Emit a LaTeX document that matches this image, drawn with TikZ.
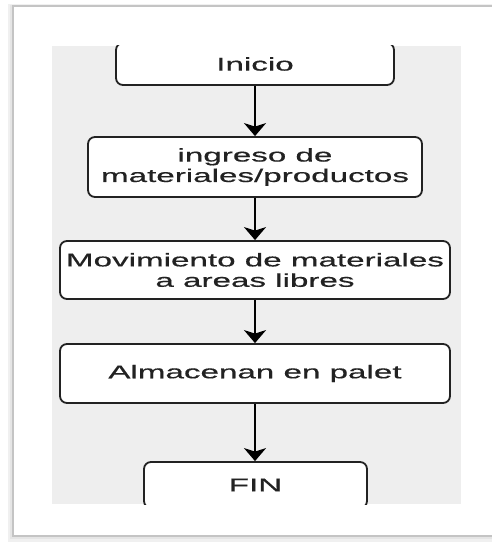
\documentclass[tikz,border=0pt]{standalone}
\usepackage{fontspec}
\setmainfont{Liberation Sans}
\newfontfamily\boxfont{Liberation Sans}[FakeStretch=1.8, FakeBold=0.5]
\usetikzlibrary{arrows.meta}
\definecolor{panel}{HTML}{EEEEEE}
\definecolor{framegray}{HTML}{C4C4C4}
\definecolor{ink}{HTML}{222222}
\tikzset{
  stepbox/.style={draw=ink, line width=1.8bp, rounded corners=7bp, fill=white,
    inner sep=0pt, align=center, text=ink,
    font=\boxfont\fontsize{18.5}{20.5}\selectfont},
  flow/.style={draw=black, line width=2.4bp,
    -{Stealth[length=13bp, width=22bp, inset=3.5bp]}}
}
\begin{document}
\begin{tikzpicture}[x=1bp, y=-1bp]
\useasboundingbox (0,0) rectangle (492,542);
% shadow of the frame
\fill[black!6] (8,4) rectangle (496,542);
\fill[black!10] (10,5) rectangle (496,539);
% outer frame
\draw[framegray, line width=1.6bp, fill=white] (13,6) rectangle (500,536);
% grey panel
\fill[panel] (52,46) rectangle (461,504);
\begin{scope}
\clip (52,46) rectangle (461,504);
\node[stepbox, minimum width=278bp, minimum height=42bp] (inicio) at (255,64) {Inicio};
\node[stepbox, minimum width=334bp, minimum height=60bp] (ingreso) at (255,167) {ingreso de\\materiales/productos};
\node[stepbox, minimum width=390bp, minimum height=58bp] (movim) at (255,270) {Movimiento de materiales\\a areas libres};
\node[stepbox, minimum width=390bp, minimum height=59bp] (almac) at (255,373.5) {Almacenan en palet};
\node[stepbox, minimum width=223bp, minimum height=46bp] (fin) at (255.5,485) {FIN};
\end{scope}
\draw[flow] (inicio) -- (ingreso);
\draw[flow] (ingreso) -- (movim);
\draw[flow] (movim) -- (almac);
\draw[flow] (almac) -- (fin.north -| almac.south);
\end{tikzpicture}
\end{document}
